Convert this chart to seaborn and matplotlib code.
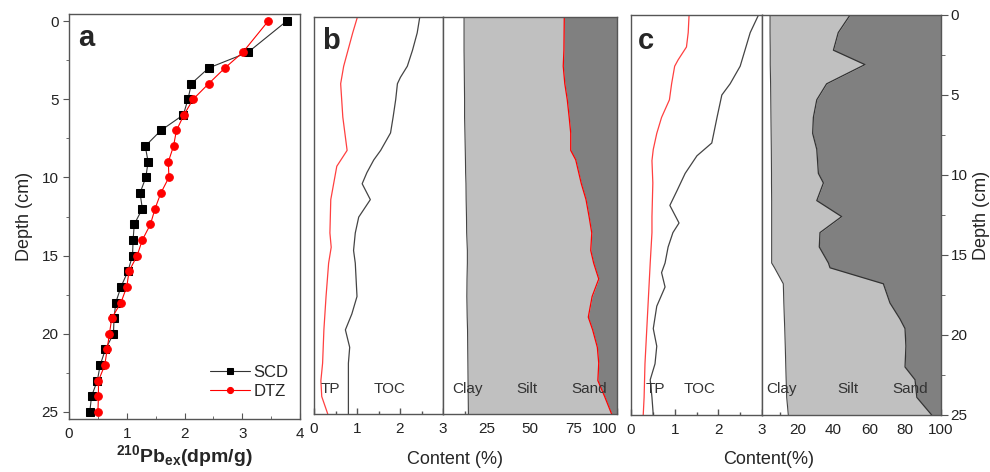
# %%
# === Load modules ===
import numpy as np
import pandas as pd
import seaborn as sns
import matplotlib.pyplot as plt
from matplotlib.ticker import MultipleLocator, FixedLocator

# %%
# === Data ===
# a: 210Pb_ex profiles
PB_DEPTH = [0, 2, 3, 4, 5, 6, 7, 8, 9, 10, 11, 12, 13, 14, 15, 16, 17, 18, 19, 20, 21, 22, 23, 24, 25]
PB_SCD   = [3.77, 3.10, 2.42, 2.12, 2.06, 1.98, 1.59, 1.32, 1.37, 1.33, 1.23, 1.27, 1.13,
            1.11, 1.10, 1.02, 0.90, 0.81, 0.78, 0.77, 0.63, 0.54, 0.49, 0.39, 0.36]
PB_DTZ   = [3.45, 3.01, 2.70, 2.42, 2.15, 1.99, 1.86, 1.81, 1.72, 1.73, 1.59, 1.49, 1.41,
            1.27, 1.18, 1.04, 1.00, 0.90, 0.74, 0.70, 0.66, 0.62, 0.51, 0.51, 0.50]

# b: SCD core
B_TP_DEPTH  = [0, 1.0, 3.1, 4.2, 6.3, 8.4, 9.4, 11.5, 13.6, 14.5, 15.5, 17.6, 19.7, 21.8, 22.9, 23.9, 25]
B_TP        = [1.01, 0.90, 0.69, 0.62, 0.67, 0.77, 0.53, 0.39, 0.37, 0.40, 0.34, 0.28, 0.23, 0.20, 0.16, 0.18, 0.32]
B_TOC_DEPTH = [0, 1.0, 2.1, 3.1, 3.8, 4.2, 5.2, 6.3, 7.3, 8.4, 9.0, 9.8, 10.5, 11.5, 12.6, 13.6,
               14.7, 15.5, 17.6, 18.7, 19.7, 20.8, 21.8, 25]
B_TOC       = [2.46, 2.40, 2.29, 2.17, 2.01, 1.94, 1.90, 1.84, 1.78, 1.55, 1.39, 1.23, 1.12, 1.31, 1.04, 0.96,
               0.92, 0.96, 1.00, 0.88, 0.73, 0.83, 0.80, 0.80]
B_GS_DEPTH  = [0, 2.1, 3.1, 4.2, 5.2, 6.3, 7.3, 8.4, 9.0, 9.8, 10.5, 11.5, 12.6, 13.6, 14.7, 15.5,
               16.5, 17.6, 18.9, 19.7, 20.8, 21.8, 22.9, 23.9, 25]
B_CLAY      = [12.1, 12.1, 12.2, 12.3, 12.4, 12.4, 12.6, 12.8, 12.9, 13.0, 13.2, 13.3, 13.5, 13.6, 14.0, 14.0,
               13.8, 13.7, 13.9, 14.1, 14.2, 14.3, 14.4, 14.5, 14.6]
B_SAND      = [30.3, 30.5, 30.9, 30.0, 28.6, 27.5, 26.6, 26.6, 23.7, 22.0, 20.5, 17.8, 16.0, 14.5, 15.1, 13.4,
               10.5, 14.3, 16.5, 14.0, 11.3, 10.5, 11.0, 7.1, 3.1]

# c: DTZ core
C_TP_DEPTH  = [0, 1.1, 2.0, 2.8, 3.2, 4.3, 5.3, 6.4, 7.4, 8.4, 9.1, 10.5, 12.6, 13.6, 15.5, 17.6, 19.7, 21.8, 23.9, 25]
C_TP        = [1.33, 1.31, 1.27, 1.08, 1.00, 0.93, 0.88, 0.70, 0.59, 0.51, 0.48, 0.50, 0.48, 0.48, 0.44,
               0.40, 0.36, 0.32, 0.30, 0.28]
C_TOC_DEPTH = [0, 1.1, 2.2, 3.2, 4.3, 5.0, 6.4, 8.0, 8.8, 9.9, 11.0, 11.9, 13.0, 13.6, 14.5, 15.5,
               16.1, 17.0, 18.2, 19.6, 20.7, 21.8, 22.8, 23.9, 25]
C_TOC       = [2.92, 2.73, 2.61, 2.50, 2.27, 2.08, 1.97, 1.85, 1.51, 1.24, 1.05, 0.89, 1.10, 0.96, 0.85, 0.78,
               0.70, 0.78, 0.59, 0.51, 0.59, 0.55, 0.44, 0.48, 0.51]
C_GS_DEPTH  = [0, 1.1, 2.2, 3.1, 4.3, 5.3, 6.4, 7.4, 8.4, 9.9, 10.5, 11.6, 12.6, 13.6, 14.5, 15.5,
               15.8, 16.8, 18.0, 19.0, 19.6, 20.7, 22.0, 22.8, 23.9, 25]
C_CLAY      = [4.5, 4.5, 4.6, 4.6, 4.8, 4.9, 5.0, 5.1, 5.2, 5.3, 5.3, 5.4, 5.4, 5.4, 5.4, 5.4,
               7.0, 11.9, 12.2, 12.5, 12.7, 13.0, 13.3, 13.5, 13.8, 14.7]
C_SAND      = [50.8, 57.4, 60.1, 42.5, 63.9, 69.4, 71.3, 71.7, 69.4, 68.5, 65.7, 69.4, 55.5, 67.6, 68.0, 62.9,
               62.0, 32.2, 28.5, 22.9, 20.1, 19.6, 20.1, 14.5, 13.5, 5.2]

LIGHT = '#c0c0c0'
DARK  = '#808080'
SPINE = '#555555'

# %%
# === Style ===
sns.set_style("ticks")
plt.rcParams['font.family'] = ['Liberation Sans', 'DejaVu Sans']
plt.rcParams['mathtext.fontset'] = 'custom'
plt.rcParams['mathtext.rm'] = 'Liberation Sans:bold'
plt.rcParams['mathtext.it'] = 'Liberation Sans:bold'
plt.rcParams['mathtext.bf'] = 'Liberation Sans:bold'
plt.rcParams['axes.edgecolor'] = SPINE
plt.rcParams['axes.linewidth'] = 1.0
plt.rcParams['xtick.color'] = SPINE
plt.rcParams['ytick.color'] = SPINE
plt.rcParams['xtick.labelcolor'] = '#222222'
plt.rcParams['ytick.labelcolor'] = '#222222'

W, H = 990, 472
fig = plt.figure(figsize=(W / 100, H / 100), dpi=100)


def px_axes(x0, x1, y0, y1):
    # pixel box (top-left origin) -> figure axes
    return fig.add_axes([x0 / W, (H - y1) / H, (x1 - x0) / W, (y1 - y0) / H])


def style_bottom(ax, major, minor):
    ax.xaxis.set_major_locator(FixedLocator(major))
    ax.xaxis.set_minor_locator(FixedLocator(minor))
    ax.tick_params(axis='x', which='major', direction='in', length=4, width=1, labelsize=11, pad=6)
    ax.tick_params(axis='x', which='minor', direction='in', length=2.5, width=1)


# %%
# === Panel a ===
ax_a = px_axes(69, 300, 14, 419)
sns.lineplot(x=PB_SCD, y=PB_DEPTH, orient='y', sort=False, ax=ax_a, color='#333333', lw=0.8,
             marker='s', markersize=5.5, markerfacecolor='black', markeredgecolor='black', label='SCD')
sns.lineplot(x=PB_DTZ, y=PB_DEPTH, orient='y', sort=False, ax=ax_a, color='red', lw=0.8,
             marker='o', markersize=5.5, markerfacecolor='red', markeredgecolor='red', label='DTZ')
ax_a.set_xlim(0, 4)
ax_a.set_ylim(25.45, -0.45)
ax_a.xaxis.set_major_locator(MultipleLocator(1))
ax_a.xaxis.set_minor_locator(MultipleLocator(0.5))
ax_a.yaxis.set_major_locator(MultipleLocator(5))
ax_a.yaxis.set_minor_locator(MultipleLocator(2.5))
ax_a.tick_params(axis='x', which='major', direction='in', length=4, labelsize=11, pad=6)
ax_a.tick_params(axis='x', which='minor', direction='in', length=2.5)
ax_a.tick_params(axis='y', which='major', direction='out', length=4, labelsize=11)
ax_a.tick_params(axis='y', which='minor', direction='out', length=2.5)
ax_a.set_xlabel(r'$^{210}$Pb$_{ex}$(dpm/g)', fontsize=14, fontweight='bold', labelpad=1)
ax_a.set_ylabel('Depth (cm)', fontsize=13, labelpad=6)
ax_a.legend(loc='lower right', bbox_to_anchor=(1.0, 0.02), frameon=False, fontsize=12,
            handlelength=2.4, handletextpad=0.2, labelspacing=0.25, borderaxespad=0.3, markerscale=0.8)
ax_a.text(0.04, 0.975, 'a', transform=ax_a.transAxes, fontsize=21, fontweight='bold', va='top')


# %%
# === Panels b / c ===
def chem_panel(ax, tp_d, tp, toc_d, toc, label_xy):
    sns.lineplot(x=tp, y=tp_d, orient='y', sort=False, ax=ax, color='#ff4040', lw=0.9)
    sns.lineplot(x=toc, y=toc_d, orient='y', sort=False, ax=ax, color='#444444', lw=0.9)
    ax.set_xlim(0, 3)
    ax.set_ylim(25, 0)
    ax.set_yticks([])
    ax.set_xlabel('')
    ax.set_ylabel('')
    style_bottom(ax, [0, 1, 2, 3], [0.5, 1.5, 2.5])
    ax.text(label_xy[0], 23.4, 'TP', fontsize=11, color='#333333', ha='center', va='center')
    ax.text(label_xy[1], 23.4, 'TOC', fontsize=11, color='#333333', ha='center', va='center')


def grain_panel(ax, depth, clay, sand, silt_line, xticks, xminor, label_x):
    clay = np.array(clay)
    top = 100 - np.array(sand)
    ax.fill_betweenx(depth, clay, top, color=LIGHT, lw=0)
    ax.fill_betweenx(depth, top, 100, color=DARK, lw=0)
    sns.lineplot(x=clay, y=depth, orient='y', sort=False, ax=ax, color='#444444', lw=0.8)
    sns.lineplot(x=top, y=depth, orient='y', sort=False, ax=ax, color=silt_line, lw=0.9)
    ax.set_xlim(0, 100)
    ax.set_ylim(25, 0)
    ax.set_xlabel('')
    ax.set_ylabel('')
    style_bottom(ax, xticks, xminor)
    for x, t in zip(label_x, ['Clay', 'Silt', 'Sand']):
        ax.text(x, 23.4, t, fontsize=11, color='#333333', ha='center', va='center')


ax_b1 = px_axes(314, 443, 17, 414)
ax_b2 = px_axes(443, 617, 17, 414)
chem_panel(ax_b1, B_TP_DEPTH, B_TP, B_TOC_DEPTH, B_TOC, (0.38, 1.75))
grain_panel(ax_b2, B_GS_DEPTH, B_CLAY, B_SAND, 'red', [25, 50, 75, 100], [12.5, 37.5, 62.5, 87.5],
            (14, 48, 84))
ax_b2.get_xticklabels()[-1].set_horizontalalignment('right')
ax_b2.yaxis.tick_right()
ax_b2.yaxis.set_major_locator(FixedLocator([1.6, 4.2, 6.8, 9.4, 12.0, 14.6, 17.2, 19.8, 22.4]))
ax_b2.tick_params(axis='y', direction='in', length=4, width=1, color='#222222', labelright=False)
ax_b1.text(0.06, 0.975, 'b', transform=ax_b1.transAxes, fontsize=21, fontweight='bold', va='top')
fig.text(455 / W, 1 - 460 / H, 'Content (%)', fontsize=13, ha='center', va='center')

ax_c1 = px_axes(631, 762, 15, 415)
ax_c2 = px_axes(762, 941, 15, 415)
chem_panel(ax_c1, C_TP_DEPTH, C_TP, C_TOC_DEPTH, C_TOC, (0.55, 1.58))
grain_panel(ax_c2, C_GS_DEPTH, C_CLAY, C_SAND, '#333333', [20, 40, 60, 80, 100], [10, 30, 50, 70, 90],
            (11, 48, 83))
ax_c2.yaxis.tick_right()
ax_c2.yaxis.set_label_position('right')
ax_c2.yaxis.set_major_locator(MultipleLocator(5))
ax_c2.yaxis.set_minor_locator(MultipleLocator(2.5))
ax_c2.tick_params(axis='y', which='major', direction='out', length=5, labelsize=11, pad=2)
ax_c2.tick_params(axis='y', which='minor', direction='out', length=3)
ax_c2.set_ylabel('Depth (cm)', fontsize=13, labelpad=4)
ax_c1.text(0.05, 0.97, 'c', transform=ax_c1.transAxes, fontsize=21, fontweight='bold', va='top')
fig.text(769 / W, 1 - 460 / H, 'Content(%)', fontsize=13, ha='center', va='center')

plt.savefig('out.png', dpi=100)
